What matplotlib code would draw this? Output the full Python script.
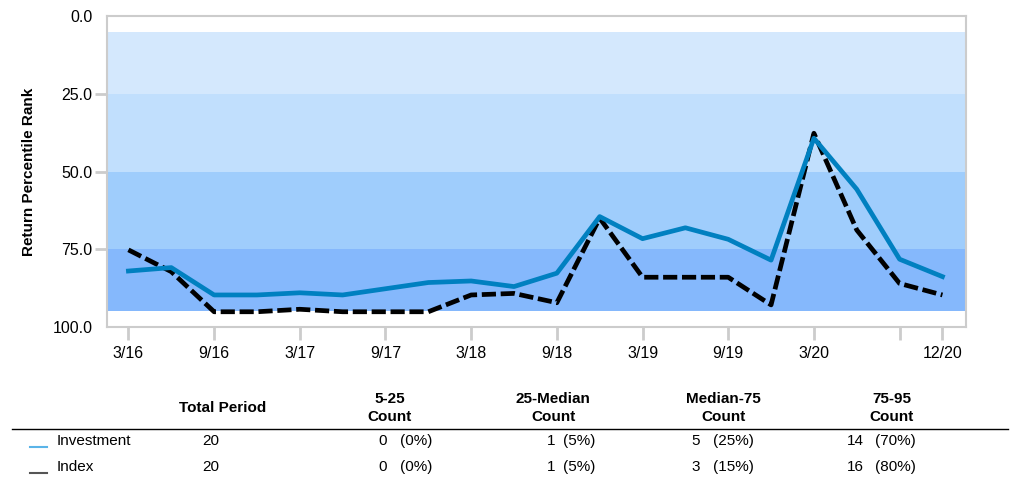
import matplotlib.pyplot as plt
import numpy as np

plt.rcParams['font.family'] = ['Liberation Sans', 'DejaVu Sans']

# quarterly percentile ranks, 3/16 .. 12/20
investment = [82.0, 80.9, 89.7, 89.7, 89.0, 89.7, 87.7, 85.7, 85.2, 87.0,
              82.7, 64.5, 71.6, 68.1, 71.8, 78.5, 39.3, 55.7, 78.2, 83.8]
index = [75.2, 82.2, 95.1, 95.1, 94.3, 95.1, 95.1, 95.1, 89.7, 89.2,
         92.2, 65.0, 84.0, 84.0, 84.0, 92.9, 37.7, 68.8, 86.0, 89.7]

tick_pos = [0, 2, 4, 6, 8, 10, 12, 14, 16, 18, 19]
tick_labels = ['3/16', '9/16', '3/17', '9/17', '3/18', '9/18', '3/19', '9/19',
               '3/20', '', '12/20']

bands = [(5, 25), (25, 50), (50, 75), (75, 95)]
band_colors = ['#d4e8fd', '#c1dffd', '#9fcdfc', '#85b8fc']

headers = ['Total Period', '5-25\nCount', '25-Median\nCount', 'Median-75\nCount', '75-95\nCount']
row_names = ['Investment', 'Index']
totals = [20, 20]
counts = [[0, 1, 5, 14], [0, 1, 3, 16]]
pcts = [['(0%)', '(5%)', '(25%)', '(70%)'], ['(0%)', '(5%)', '(15%)', '(80%)']]

W, H = 1011, 480
fig = plt.figure(figsize=(W / 100, H / 100), dpi=100)
ax = fig.add_axes([107 / W, 1 - 327 / H, (966 - 107) / W, (327 - 16) / H])

x = np.arange(len(investment))
for (lo, hi), c in zip(bands, band_colors):
    ax.axhspan(lo, hi, color=c, lw=0, zorder=0)

ax.plot(x, investment, color='#0080c0', lw=3.4, zorder=3)
ax.plot(x, index, color='black', lw=3.4, ls=(0, (3, 1)), zorder=2)

ax.set_xlim(-0.5, 19.55)
ax.set_ylim(100, 0)
ax.set_yticks([0, 25, 50, 75, 100])
ax.set_yticklabels(['0.0', '25.0', '50.0', '75.0', '100.0'], fontsize=11.5)
ax.set_xticks(tick_pos)
ax.set_xticklabels(tick_labels, fontsize=11.5)
ax.tick_params(axis='x', length=9, width=2, color='#cccccc', pad=5)
ax.tick_params(axis='y', length=9, width=2, color='#cccccc', pad=1.5)
yt = ax.yaxis.get_major_ticks()
yt[0].tick1line.set_visible(False)
yt[-1].tick1line.set_visible(False)
for s in ax.spines.values():
    s.set_color('#cccccc')
    s.set_linewidth(1.5)

ax.set_ylabel('Return Percentile Rank', fontsize=11, fontweight='bold')
ax.yaxis.set_label_coords(-0.083, 0.5)

# summary table
def fx(px):
    return px / W

def fy(py):
    return 1 - py / H

header_x = [223, 390, 553, 723, 892]
for hx, h in zip(header_x, headers):
    fig.text(fx(hx), fy(408), h, ha='center', va='center', fontsize=11,
             fontweight='bold', linespacing=1.3)
fig.add_artist(plt.Line2D([fx(12), fx(1008)], [fy(429), fy(429)], color='black', lw=1))

row_y = [441, 467]
swatch = ['#5ab4e8', '#555555']
count_right = [387, 555, 700, 864]
pct_left = [400, 563, 713, 875]
for r, name in enumerate(row_names):
    yy = row_y[r]
    fig.add_artist(plt.Line2D([fx(30), fx(47)], [fy(yy + 6), fy(yy + 6)], color=swatch[r], lw=1.5))
    fig.text(fx(57), fy(yy), name, ha='left', va='center', fontsize=11)
    fig.text(fx(202), fy(yy), str(totals[r]), ha='left', va='center', fontsize=11)
    for c in range(4):
        fig.text(fx(count_right[c]), fy(yy), str(counts[r][c]), ha='right', va='center', fontsize=11)
        fig.text(fx(pct_left[c]), fy(yy), pcts[r][c], ha='left', va='center', fontsize=11)

fig.savefig('out.png', dpi=100)
